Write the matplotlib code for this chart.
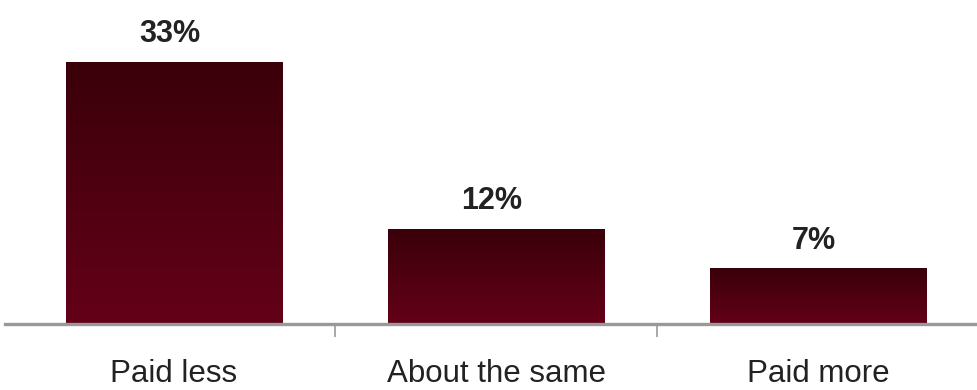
import numpy as np
import matplotlib
matplotlib.use('Agg')
import matplotlib.pyplot as plt
from matplotlib.colors import LinearSegmentedColormap

categories = ["Paid less", "About the same", "Paid more"]
values = [33, 12, 7]
labels = ["33%", "12%", "7%"]

plt.rcParams['font.family'] = ['Liberation Sans', 'DejaVu Sans']

fig = plt.figure(figsize=(9.77, 3.9), dpi=100)
ax = fig.add_axes([5 / 977, 66 / 390, 972 / 977, 330 / 390])

x = np.arange(len(categories))
bars = ax.bar(x, values, width=0.673, color='none', edgecolor='none', zorder=2)

# vertical dark-red gradient inside each bar
cmap = LinearSegmentedColormap.from_list('wine', ['#640019', '#3a0009'])
grad = np.linspace(0, 1, 256).reshape(-1, 1)
for b in bars:
    x0, y0 = b.get_x(), b.get_y()
    w, h = b.get_width(), b.get_height()
    im = ax.imshow(grad, cmap=cmap, aspect='auto', origin='lower',
                   extent=[x0, x0 + w, y0, y0 + h], zorder=2)
    im.set_clip_path(b)

for xi, v, lab in zip(x, values, labels):
    ax.annotate(lab, (xi, v), xytext=(-3, 9), textcoords='offset points',
                ha='center', va='bottom', fontsize=22, fontweight='bold',
                color='#222222')

ax.set_xlim(-0.5245, 2.492)
ax.set_ylim(0, 41.5)

for s in ['top', 'right', 'left']:
    ax.spines[s].set_visible(False)
ax.spines['bottom'].set_color('#999999')
ax.spines['bottom'].set_linewidth(2.4)
ax.spines['bottom'].set_zorder(3)

ax.set_yticks([])
ax.set_xticks(x)
ax.set_xticklabels(categories, fontsize=22.5, color='#222222')
ax.tick_params(axis='x', which='major', length=0, pad=25)
ax.set_xticks([0.5, 1.5], minor=True)
ax.tick_params(axis='x', which='minor', length=9, width=1.2, color='#999999')

fig.savefig('out.png', dpi=100)
